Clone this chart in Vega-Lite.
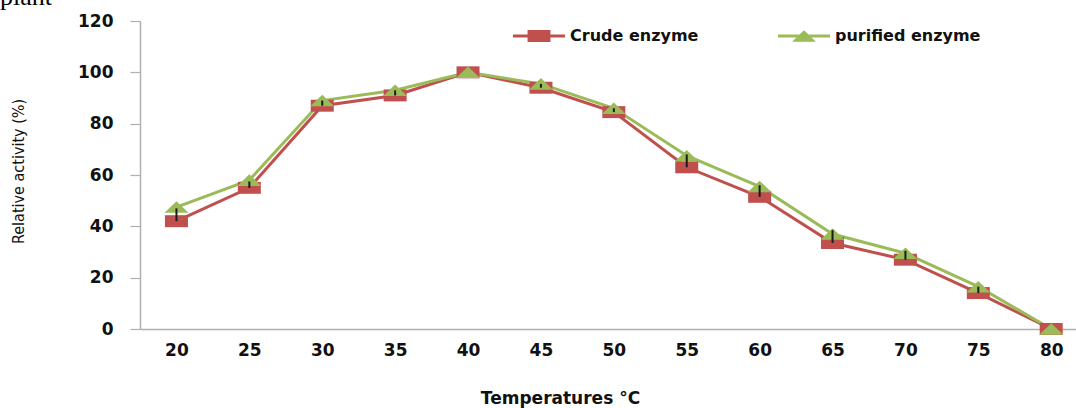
{
  "$schema": "https://vega.github.io/schema/vega-lite/v6.json",
  "autosize": {"type": "none"},
  "padding": {"left": 140, "top": 21, "right": 0, "bottom": 79},
  "width": 936,
  "height": 308,
  "background": "white",
  "title": {
    "text": "plant",
    "anchor": "start",
    "frame": "group",
    "font": "Liberation Serif",
    "fontSize": 26,
    "fontWeight": "normal",
    "color": "#000000",
    "baseline": "alphabetic",
    "dx": -140,
    "offset": -21
  },
  "datasets": {
    "activity": [
      {"temp": 20, "series": "Crude enzyme", "value": 42},
      {"temp": 25, "series": "Crude enzyme", "value": 55},
      {"temp": 30, "series": "Crude enzyme", "value": 87},
      {"temp": 35, "series": "Crude enzyme", "value": 91},
      {"temp": 40, "series": "Crude enzyme", "value": 100},
      {"temp": 45, "series": "Crude enzyme", "value": 94},
      {"temp": 50, "series": "Crude enzyme", "value": 84.5},
      {"temp": 55, "series": "Crude enzyme", "value": 63},
      {"temp": 60, "series": "Crude enzyme", "value": 51.5},
      {"temp": 65, "series": "Crude enzyme", "value": 33.5},
      {"temp": 70, "series": "Crude enzyme", "value": 27},
      {"temp": 75, "series": "Crude enzyme", "value": 14},
      {"temp": 80, "series": "Crude enzyme", "value": 0},
      {"temp": 20, "series": "purified enzyme", "value": 47.5},
      {"temp": 25, "series": "purified enzyme", "value": 58},
      {"temp": 30, "series": "purified enzyme", "value": 89},
      {"temp": 35, "series": "purified enzyme", "value": 93},
      {"temp": 40, "series": "purified enzyme", "value": 100},
      {"temp": 45, "series": "purified enzyme", "value": 95.5},
      {"temp": 50, "series": "purified enzyme", "value": 86},
      {"temp": 55, "series": "purified enzyme", "value": 67.5},
      {"temp": 60, "series": "purified enzyme", "value": 55.5},
      {"temp": 65, "series": "purified enzyme", "value": 37},
      {"temp": 70, "series": "purified enzyme", "value": 29.5},
      {"temp": 75, "series": "purified enzyme", "value": 16.5},
      {"temp": 80, "series": "purified enzyme", "value": 0}
    ],
    "errors": [
      {"temp": 20, "low": 42, "high": 47},
      {"temp": 25, "low": 55, "high": 57.5},
      {"temp": 30, "low": 87, "high": 89},
      {"temp": 35, "low": 91, "high": 93},
      {"temp": 45, "low": 94, "high": 95.5},
      {"temp": 50, "low": 84.5, "high": 86},
      {"temp": 55, "low": 63, "high": 68},
      {"temp": 60, "low": 51.5, "high": 56},
      {"temp": 65, "low": 33.5, "high": 38.5},
      {"temp": 70, "low": 27, "high": 30.5},
      {"temp": 75, "low": 14, "high": 16.5}
    ]
  },
  "data": {"name": "activity"},
  "encoding": {
    "x": {
      "field": "temp",
      "type": "quantitative",
      "scale": {"domain": [17.5, 81.7], "nice": false, "zero": false},
      "axis": {
        "values": [20, 25, 30, 35, 40, 45, 50, 55, 60, 65, 70, 75, 80],
        "grid": false,
        "ticks": false,
        "domainColor": "#b0b0b0",
        "domainWidth": 1.5,
        "labelFont": "DejaVu Sans",
        "labelFontWeight": "bold",
        "labelFontSize": 17,
        "labelColor": "#111111",
        "labelPadding": 13,
        "title": "Temperatures °C",
        "titleFont": "DejaVu Sans",
        "titleFontWeight": "bold",
        "titleFontSize": 17,
        "titleColor": "#111111",
        "titleX": 420,
        "titleY": 74,
        "titleAlign": "center",
        "titleBaseline": "alphabetic"
      }
    },
    "y": {
      "field": "value",
      "type": "quantitative",
      "scale": {"domain": [0, 120], "nice": false},
      "axis": {
        "values": [0, 20, 40, 60, 80, 100, 120],
        "grid": false,
        "domainColor": "#b0b0b0",
        "domainWidth": 1.5,
        "tickColor": "#b0b0b0",
        "tickSize": 10,
        "tickWidth": 1.2,
        "labelFont": "DejaVu Sans",
        "labelFontWeight": "bold",
        "labelFontSize": 17,
        "labelColor": "#111111",
        "labelPadding": 17,
        "title": "Relative activity (%)",
        "titleFont": "DejaVu Sans Condensed, Roboto, Liberation Sans, sans-serif",
        "titleFontWeight": "normal",
        "titleFontSize": 16,
        "titleColor": "#111111",
        "titleAngle": -90,
        "titleX": -117,
        "titleY": 150,
        "titleAlign": "center",
        "titleBaseline": "alphabetic"
      }
    }
  },
  "layer": [
    {
      "transform": [{"filter": "datum.series === 'Crude enzyme'"}],
      "mark": {"type": "line", "color": "#C0504D", "strokeWidth": 3}
    },
    {
      "transform": [{"filter": "datum.series === 'purified enzyme'"}],
      "mark": {"type": "line", "color": "#9BBB59", "strokeWidth": 3}
    },
    {
      "transform": [{"filter": "datum.series === 'Crude enzyme'"}],
      "mark": {
        "type": "point",
        "filled": true,
        "opacity": 1,
        "color": "#C0504D",
        "shape": "M-1,-0.52H1V0.52H-1Z",
        "size": 529
      }
    },
    {
      "transform": [{"filter": "datum.series === 'purified enzyme'"}],
      "mark": {
        "type": "point",
        "filled": true,
        "opacity": 1,
        "color": "#9BBB59",
        "shape": "M0,-0.48L1,0.48H-1Z",
        "size": 576
      }
    },
    {
      "data": {"name": "errors"},
      "mark": {"type": "rule", "color": "#1a1a1a", "strokeWidth": 2},
      "encoding": {
        "y": {"field": "low", "type": "quantitative"},
        "y2": {"field": "high"}
      }
    },
    {
      "mark": {"type": "point", "filled": true, "opacity": 0},
      "encoding": {
        "color": {
          "field": "series",
          "type": "nominal",
          "scale": {
            "domain": ["Crude enzyme", "purified enzyme"],
            "range": ["#C0504D", "#9BBB59"]
          },
          "legend": {
            "title": null,
            "orient": "none",
            "legendX": 373,
            "legendY": -11,
            "direction": "horizontal",
            "columns": 2,
            "columnPadding": 79,
            "symbolSize": 2704,
            "symbolStrokeWidth": 0,
            "symbolOpacity": 1,
            "labelOffset": 5,
            "labelFont": "DejaVu Sans",
            "labelFontWeight": "bold",
            "labelFontSize": 16,
            "labelColor": "#111111",
            "labelLimit": 300
          }
        },
        "shape": {
          "field": "series",
          "type": "nominal",
          "scale": {
            "domain": ["Crude enzyme", "purified enzyme"],
            "range": [
              "M-1,-0.058H1V0.058H-1Z M-0.44,-0.23H0.44V0.23H-0.44Z",
              "M-1,-0.058H1V0.058H-1Z M0,-0.22L0.46,0.22H-0.46Z"
            ]
          },
          "legend": {
            "title": null,
            "orient": "none",
            "legendX": 373,
            "legendY": -11,
            "direction": "horizontal",
            "columns": 2,
            "columnPadding": 79,
            "symbolSize": 2704,
            "symbolStrokeWidth": 0,
            "symbolOpacity": 1,
            "labelOffset": 5,
            "labelFont": "DejaVu Sans",
            "labelFontWeight": "bold",
            "labelFontSize": 16,
            "labelColor": "#111111",
            "labelLimit": 300
          }
        }
      }
    }
  ],
  "config": {
    "view": {"stroke": null}
  }
}
